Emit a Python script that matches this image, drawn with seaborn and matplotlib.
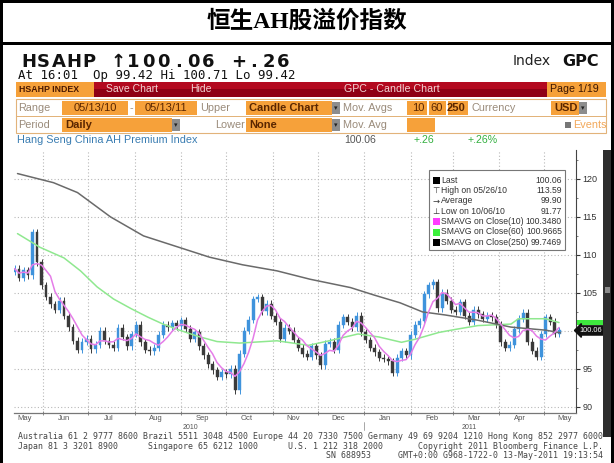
import matplotlib
matplotlib.use("Agg")
import matplotlib.pyplot as plt
import matplotlib.dates as mdates
from matplotlib.patches import Rectangle
from matplotlib.ticker import MultipleLocator, NullFormatter
import numpy as np
import pandas as pd
import seaborn as sns

# ------------------------------------------------------------------ data
start_date = "2010-05-13"
step_days = 3
first_open = 107.8
closes = [108.2, 107.0, 108.0, 107.3, 113.0, 109.0, 106.0, 104.5, 103.5, 102.8,
          104.0, 102.0, 100.5, 98.7, 97.5, 98.6, 99.0, 97.6, 98.2, 100.0,
          98.7, 98.2, 97.8, 100.4, 99.2, 98.0, 99.6, 100.8, 98.5, 97.5,
          97.3, 97.8, 99.5, 100.8, 100.5, 101.0, 100.6, 101.4, 100.3, 99.0,
          99.8, 98.0, 96.8, 95.6, 94.8, 94.0, 94.6, 94.3, 95.0, 92.2,
          97.0, 100.0, 101.5, 104.2, 104.4, 102.6, 103.6, 102.0, 101.2, 99.0,
          100.4, 100.0, 98.8, 97.8, 97.0, 96.6, 98.0, 96.8, 95.5, 98.3,
          98.6, 97.5, 100.8, 101.8, 101.2, 100.5, 102.0, 99.8, 98.8, 97.8,
          97.2, 96.5, 96.3, 96.0, 94.5, 96.5, 97.3, 96.8, 99.5, 100.8,
          101.3, 104.8, 106.0, 106.4, 103.0, 105.0, 104.0, 102.8, 102.5, 103.8,
          102.0, 101.2, 102.8, 102.2, 101.6, 102.0, 101.8, 100.8, 98.5, 97.8,
          98.2, 100.2, 101.6, 102.4, 98.6, 97.4, 96.6, 99.6, 101.8, 101.2,
          99.6, 100.06]

sma250_dates = ["2010-05-15", "2010-06-08", "2010-06-24", "2010-07-16", "2010-08-07",
                "2010-08-29", "2010-09-20", "2010-10-12", "2010-11-04", "2010-11-26",
                "2010-12-23", "2011-01-08", "2011-01-25", "2011-02-09", "2011-02-24",
                "2011-03-18", "2011-04-09", "2011-05-02", "2011-05-12"]
sma250_vals = [120.7, 119.5, 118.2, 115.0, 112.5, 111.1, 109.7, 108.7, 107.9, 106.8,
               105.7, 104.7, 103.7, 102.5, 102.1, 101.4, 100.5, 100.1, 99.75]

sma60_dates = ["2010-05-15", "2010-05-30", "2010-06-15", "2010-06-26", "2010-07-07",
               "2010-07-18", "2010-07-30", "2010-08-10", "2010-08-20", "2010-08-31",
               "2010-09-12", "2010-09-25", "2010-10-10", "2010-11-04", "2010-11-25",
               "2010-12-11", "2010-12-28", "2011-01-11", "2011-01-26", "2011-02-04",
               "2011-02-20", "2011-03-03", "2011-03-18", "2011-04-09", "2011-04-14",
               "2011-05-02", "2011-05-11"]
sma60_vals = [112.8, 111.0, 109.6, 107.9, 105.8, 104.2, 102.9, 101.8, 100.9, 100.1,
              99.3, 98.6, 98.4, 98.7, 98.1, 98.8, 99.6, 99.2, 98.5, 98.9,
              99.8, 100.2, 100.7, 100.9, 101.6, 101.6, 101.1]

month_labels = ["May", "Jun", "Jul", "Aug", "Sep", "Oct", "Nov", "Dec",
                "Jan", "Feb", "Mar", "Apr", "May"]
month_label_dates = ["2010-05-20", "2010-06-15", "2010-07-15", "2010-08-15", "2010-09-15",
                     "2010-10-15", "2010-11-15", "2010-12-15", "2011-01-15", "2011-02-15",
                     "2011-03-15", "2011-04-15", "2011-05-15"]
year_labels = ["2010", "2011"]
year_label_dates = ["2010-09-07", "2011-03-12"]
y_ticks = [90, 95, 100, 105, 110, 115, 120]

legend_names = ["Last", "High on 05/26/10", "Average", "Low on 10/06/10",
                "SMAVG on Close(10)", "SMAVG on Close(60)", "SMAVG on Close(250)"]
legend_values = ["100.06", "113.59", "99.90", "91.77", "100.3480", "100.9665", "99.7469"]

title_text = "恒生AH股溢价指数"
quote_line = "HSAHP ↑100.06 +.26"
stats_line = "At 16:01  Op 99.42 Hi 100.71 Lo 99.42"
footer_1 = "Australia 61 2 9777 8600 Brazil 5511 3048 4500 Europe 44 20 7330 7500 Germany 49 69 9204 1210 Hong Kong 852 2977 6000"

# ------------------------------------------------------------------ setup
sns.set_theme(style="white")
plt.rcParams['font.family'] = ['Liberation Sans', 'DejaVu Sans']

W, H = 614, 463
fig = plt.figure(figsize=(W / 100, H / 100), dpi=100)
fig.patch.set_facecolor("white")


def fx(x):
    return x / W


def fy(y):
    return 1 - y / H


def ftext(x, y, s, **kw):
    kw.setdefault("va", "center")
    return fig.text(fx(x), fy(y), s, **kw)


def frect(x0, y0, x1, y1, **kw):
    r = Rectangle((fx(x0), fy(y1)), (x1 - x0) / W, (y1 - y0) / H,
                  transform=fig.transFigure, **kw)
    fig.patches.append(r)
    return r


# ------------------------------------------------------------------ chart
AX_TOP, AX_BOT = 150, 413
ax = fig.add_axes([fx(14), fy(AX_BOT), (576 - 14) / W, (AX_BOT - AX_TOP) / H])
ax.set_facecolor("white")

dates = pd.date_range(start_date, periods=len(closes), freq=f"{step_days}D")
df = pd.DataFrame({"date": dates, "close": closes})
df["open"] = [first_open] + closes[:-1]
wick = 0.45
df["top"] = df[["open", "close"]].max(axis=1)
df["bot"] = df[["open", "close"]].min(axis=1)
df["high"] = df["top"] + wick
df["low"] = df["bot"] - wick
up = df["close"] >= df["open"]
cols = np.where(up, "#3f93dc", "#3a3a3a")

ax.vlines(df["date"], df["low"], df["high"], colors=cols, lw=0.7, zorder=2)
body = (df["top"] - df["bot"]).clip(lower=0.18)
ax.bar(df["date"], body, bottom=df["bot"], width=2.0, color=cols,
       edgecolor=cols, lw=0.3, zorder=2)

ma10 = pd.Series(closes, index=dates).rolling("14D").mean()
sns.lineplot(x=ma10.index, y=ma10.values, ax=ax, color="#e57de8", lw=1.1, zorder=4)
sns.lineplot(x=pd.to_datetime(sma60_dates), y=sma60_vals, ax=ax, color="#8fe88f",
             lw=1.1, zorder=3)
sns.lineplot(x=pd.to_datetime(sma250_dates), y=sma250_vals, ax=ax, color="#6a6a6a",
             lw=1.1, zorder=3)

ax.set_xlim(pd.Timestamp("2010-05-12 16:00"), pd.Timestamp("2011-05-22 08:00"))
ax.set_ylim(89.2, 123.8)
ax.set_xlabel("")
ax.set_ylabel("")

ax.yaxis.tick_right()
ax.set_yticks(y_ticks)
# the 100 label is hidden behind the last-price tag in the original
ax.set_yticklabels(["" if t == 100 else str(t) for t in y_ticks])
ax.yaxis.set_minor_locator(MultipleLocator(2.5))
ax.tick_params(axis="y", which="major", direction="out", length=3, width=0.8,
               pad=1.5, labelsize=6.5, colors="#333333", right=True, left=False)
ax.tick_params(axis="y", which="minor", direction="out", length=1.5, width=0.6,
               colors="#666666", right=True, left=False)

ax.xaxis.set_major_locator(mdates.MonthLocator())
ax.xaxis.set_major_formatter(NullFormatter())
ax.set_xticks(mdates.date2num(pd.to_datetime(month_label_dates)), minor=True)
ax.set_xticklabels(month_labels, minor=True)
ax.tick_params(axis="x", which="minor", length=0, labelsize=5.5, pad=1.5,
               labelcolor="#555555", bottom=True)
ax.tick_params(axis="x", which="major", direction="inout", length=3, width=0.6,
               color="#777777", bottom=True)

ax.grid(True, which="major", axis="both", color="#b8b8b8",
        linestyle=(0, (1, 2)), lw=0.8, zorder=0)
ax.set_axisbelow(True)

for s in ["left", "top"]:
    ax.spines[s].set_visible(False)
ax.spines["right"].set_color("#444444")
ax.spines["right"].set_linewidth(0.8)
ax.spines["bottom"].set_color("#777777")
ax.spines["bottom"].set_linewidth(0.9)

axh = AX_BOT - AX_TOP
xt = ax.get_xaxis_transform()
for lab, d in zip(year_labels, year_label_dates):
    ax.text(pd.Timestamp(d), -(427.5 - AX_BOT) / axh, lab, transform=xt, ha="center",
            va="center", fontsize=5, color="#555555")
jan1 = pd.Timestamp("2011-01-01")
ax.plot([jan1, jan1], [-(422 - AX_BOT) / axh, -(430 - AX_BOT) / axh], transform=xt,
        clip_on=False, color="#999999", lw=0.6)

# price tags at the right axis
yt = ax.get_yaxis_transform()
ax.add_patch(Rectangle((1.002, sma60_vals[-1] - 0.35), 0.054, 0.75, transform=yt,
                       clip_on=False, fc="#3ee83e", ec="none", zorder=5))
ax.text(1.006, closes[-1], f"{closes[-1]:.2f}", transform=yt, ha="left", va="center",
        fontsize=5.3, color="white", clip_on=False, zorder=6,
        bbox=dict(boxstyle="larrow,pad=0.15", fc="#111111", ec="#111111"))

# ------------------------------------------------------------------ legend box
frect(429, 170, 565, 250, fc="white", ec="#777777", lw=0.8, zorder=5)
sym = ["sq", "⊤", "→", "⊥", "sq", "sq", "sq"]
sq_col = ["#000000", None, None, None, "#ff3cff", "#3cf03c", "#000000"]
for i, (nm, val) in enumerate(zip(legend_names, legend_values)):
    yy = 180 + 10.4 * i
    if sym[i] == "sq":
        frect(433, yy - 3.5, 439.5, yy + 3.5, fc=sq_col[i], ec="none", zorder=6)
    else:
        ftext(436, yy, sym[i], ha="center", fontsize=6, color="#333333",
              family="DejaVu Sans", zorder=6)
    ftext(441, yy, nm, ha="left", fontsize=6.2, color="#333333", zorder=6)
    ftext(562, yy, val, ha="right", fontsize=6.2, color="#333333", zorder=6)

# ------------------------------------------------------------------ frame & title
frect(0, 0, W, 3, fc="black", ec="none")
frect(0, 0, 3, H, fc="black", ec="none")
frect(611, 0, W, H, fc="black", ec="none")
frect(0, 42, W, 45, fc="black", ec="none")
ftext(307, 22, title_text, ha="center", fontsize=17, fontweight="bold",
      family=["Liberation Serif", "Noto Sans CJK SC"], color="black")

# right scroll bar
frect(603, 150, 611, 437, fc="#2e2e2e", ec="none")
frect(604.5, 287, 609.5, 293, fc="#8a8a8a", ec="none")

# ------------------------------------------------------------------ header
for i, ch in enumerate(quote_line):
    ftext(21 + 15 * i + 7.5, 62, ch, ha="center", fontsize=13, fontweight="bold",
          family="DejaVu Sans", color="#111111")
ftext(18, 76, stats_line, ha="left", fontsize=8.9, family="DejaVu Sans Mono",
      color="#111111")
ftext(551, 61, "Index", ha="right", fontsize=10, family="DejaVu Sans", color="#222222")
ftext(599, 61, "GPC", ha="right", fontsize=11.5, fontweight="bold",
      family="DejaVu Sans", color="#111111")

# red toolbar
frect(16, 82, 606, 90, fc="#b3091f", ec="none")
frect(16, 89.5, 606, 97, fc="#8e0015", ec="none")
orange = "#f6a13a"
frect(16, 82, 94, 97, fc=orange, ec="none")
ftext(19, 89.5, "HSAHP INDEX", ha="left", fontsize=6.3, fontweight="bold", color="#4a1800")
ftext(106, 89.5, "Save Chart", ha="left", fontsize=7.5, color="#f3d3d3")
ftext(190, 89.5, "Hide", ha="left", fontsize=7.5, color="#f3d3d3")
ftext(344, 89.5, "GPC - Candle Chart", ha="left", fontsize=7.7, color="#f3d3d3")
frect(547, 82, 606, 97, fc=orange, ec="none")
ftext(550, 89.5, "Page 1/19", ha="left", fontsize=7.7, color="#3a1500")

# option rows
frect(16, 99, 606, 133, fc="white", ec="#e2b37a", lw=0.8)
frect(16, 116, 606, 116.6, fc="#e2b37a", ec="none")
lab_c = "#9a8b7a"
fld_c = "#5a2600"


def field(x0, x1, y0, y1, txt="", ha="center", bold=False, button=False):
    frect(x0, y0, x1, y1, fc=orange, ec="none")
    if txt:
        xx = (x0 + x1) / 2 if ha == "center" else (x0 + 3 if ha == "left" else x1 - 3)
        ftext(xx, (y0 + y1) / 2, txt, ha=ha, fontsize=8, color=fld_c,
              fontweight="bold" if bold else "normal")
    if button:
        frect(x1, y0 + 1, x1 + 8, y1 - 1, fc="#8d8d8d", ec="none")
        ftext(x1 + 4, (y0 + y1) / 2, "▾", ha="center", fontsize=5, color="#222222",
              family="DejaVu Sans")


r1 = (101, 115)
r2 = (118, 132)
ftext(18, 108, "Range", ha="left", fontsize=7.8, color=lab_c)
field(62, 128, *r1, "05/13/10")
ftext(131, 108, "-", ha="center", fontsize=7.8, color=lab_c)
field(135, 197, *r1, "05/13/11")
ftext(200, 108, "Upper", ha="left", fontsize=7.8, color=lab_c)
field(246, 332, *r1, "Candle Chart", ha="left", bold=True, button=True)
ftext(343, 108, "Mov. Avgs", ha="left", fontsize=7.8, color=lab_c)
field(407, 427, *r1, "10", ha="right")
field(429, 446, *r1, "60", ha="right")
field(448, 468, *r1, "250", ha="right", bold=True)
ftext(472, 108, "Currency", ha="left", fontsize=7.8, color=lab_c)
field(551, 579, *r1, "USD", ha="left", bold=True, button=True)

ftext(18, 125, "Period", ha="left", fontsize=7.8, color=lab_c)
field(62, 172, *r2, "Daily", ha="left", bold=True, button=True)
ftext(215, 125, "Lower", ha="left", fontsize=7.8, color=lab_c)
field(246, 332, *r2, "None", ha="left", bold=True, button=True)
ftext(343, 125, "Mov. Avg", ha="left", fontsize=7.8, color=lab_c)
field(407, 435, *r2)
frect(565, 122, 571, 128, fc="#777777", ec="none")
ftext(573, 125, "Events", ha="left", fontsize=7.8, color="#f2a85a")

# security description row
ftext(17, 140, "Hang Seng China AH Premium Index", ha="left", fontsize=7.8, color="#3a7db2")
ftext(344, 140, "100.06", ha="left", fontsize=7.6, color="#555555")
ftext(414, 140, "+.26", ha="left", fontsize=7.6, color="#33b040")
ftext(468, 140, "+.26%", ha="left", fontsize=7.6, color="#33b040")
frect(488, 146.5, 543, 147.3, fc="#555555", ec="none")

# ------------------------------------------------------------------ footer
fkw = dict(fontsize=5.95, family="DejaVu Sans Mono", color="#444444")
ftext(18, 436.5, footer_1, ha="left", **fkw)
ftext(18, 446.2, "Japan 81 3 3201 8900", ha="left", **fkw)
ftext(148, 446.2, "Singapore 65 6212 1000", ha="left", **fkw)
ftext(288, 446.2, "U.S. 1 212 318 2000", ha="left", **fkw)
ftext(603, 446.2, "Copyright 2011 Bloomberg Finance L.P.", ha="right", **fkw)
ftext(326, 455.9, "SN 688953", ha="left", **fkw)
ftext(603, 455.9, "GMT+0:00 G968-1722-0 13-May-2011 19:13:54", ha="right", **fkw)

fig.savefig("out.png", dpi=100, facecolor="white")
